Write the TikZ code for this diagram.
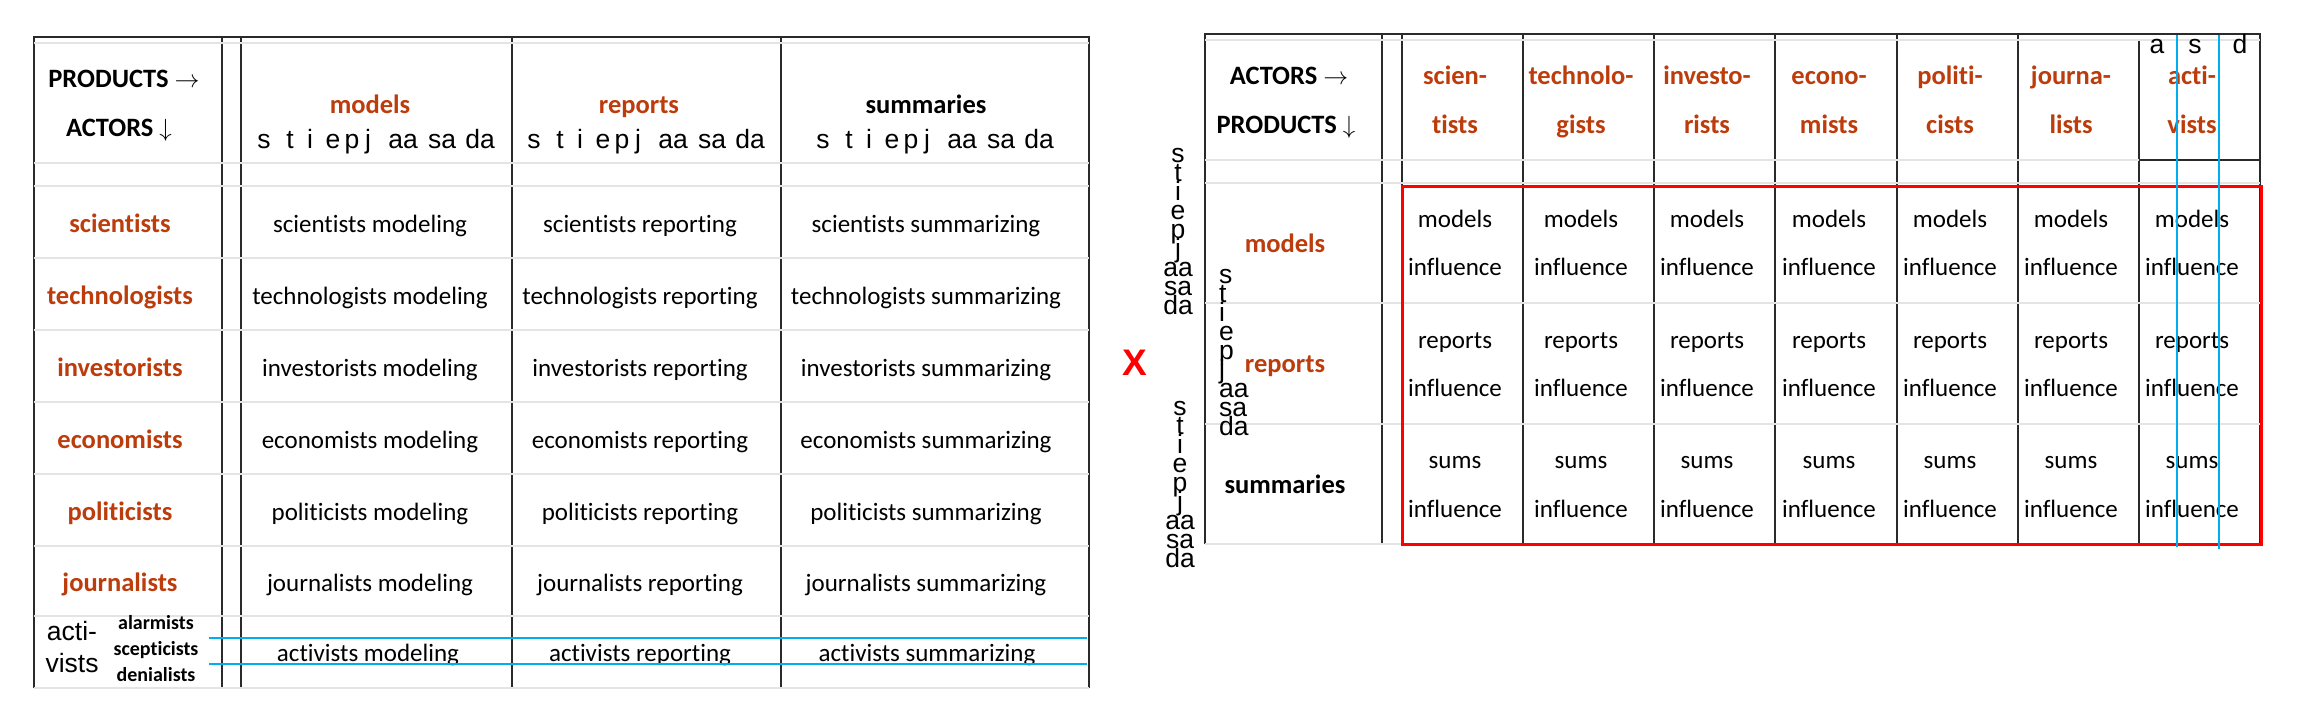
\documentclass[tikz,border=0pt]{standalone}
\usepackage{fontspec}
\setmainfont{Carlito}[Ligatures={NoCommon}]
\newfontfamily\arialf{Liberation Sans}
\definecolor{lab}{HTML}{BC3C0C}
\definecolor{blu}{HTML}{00AEEF}
\definecolor{grl}{HTML}{E4E4E4}
\definecolor{dk}{HTML}{2A2A2A}
\begin{document}
\begin{tikzpicture}[x=1pt,y=-1pt,
  every node/.style={inner sep=0pt, outer sep=0pt},
  cell/.style={anchor=base, font=\fontsize{25}{30}\selectfont},
  rlab/.style={anchor=base, text=lab, font=\fontsize{26.5}{30}\selectfont\bfseries},
  blab/.style={anchor=base, font=\fontsize{26.5}{30}\selectfont\bfseries},
  smallb/.style={anchor=base, font=\fontsize{20}{22}\selectfont\bfseries},
  ar/.style={anchor=base, font=\arialf\fontsize{26.5}{26}\selectfont},
  dline/.style={draw=dk, line width=2pt},
  gline/.style={draw=grl, line width=2pt},
  bline/.style={draw=blu, line width=2.5pt},
]
\fill[white] (0,0) rectangle (2298,720);
\useasboundingbox (0,0) rectangle (2298,720);

% ---------------- left table ----------------
\foreach \x in {34,222,241,512,781,1089} \draw[dline] (\x,37) -- (\x,688);
\foreach \y in {43,163,186,258,330,402,474,546,616,688} \draw[gline] (34,\y) -- (1089,\y);
\draw[dline] (33,37) -- (1090,37);

\node[blab] (lhp) at (124,87) {PRODUCTS $\rightarrow$};
\node[blab] (lha) at (119,136) {ACTORS $\downarrow$};
\node[rlab] (lmod) at (370,113) {models};
\node[rlab] (lrep) at (639,113) {reports};
\node[blab] (lsum) at (926,113) {summaries};

\foreach \c/\k in {377/a,647/b,936/c}{
  \foreach \l/\o [count=\i] in {s/-113,t/-87,i/-67,e/-44,p/-25,j/-9,aa/26,sa/65,da/103}
    \node[ar] (let\k\i) at (\c+\o,148) {\l};
}

\foreach \n/\y [count=\i] in {scientists/232,technologists/304,investorists/376,economists/448,politicists/520,journalists/591}{
  \node[rlab] (act\i) at (120,\y) {\n};
  \node[cell] (m\i) at (370,\y) {\n\ modeling};
  \node[cell] (r\i) at (640,\y) {\n\ reporting};
  \node[cell] (s\i) at (926,\y) {\n\ summarizing};
}
\node[ar] (acti1) at (72,640) {acti-};
\node[ar] (acti2) at (72,672) {vists};
\node[smallb] (alarm) at (156,629) {alarmists};
\node[smallb] (scept) at (156,655) {scepticists};
\node[smallb] (denial) at (156,681) {denialists};
\node[cell] (m7) at (368,661) {activists modeling};
\node[cell] (r7) at (640,661) {activists reporting};
\node[cell] (s7) at (927,661) {activists summarizing};

\coordinate (bl1a) at (209,638); \coordinate (bl1b) at (1087,638);
\coordinate (bl2a) at (209,664); \coordinate (bl2b) at (1087,664);
\draw[bline] (bl1a) -- (bl1b);
\draw[bline] (bl2a) -- (bl2b);

% ---------------- X ----------------
\node[anchor=base, text=red, font=\arialf\fontsize{37}{37}\selectfont\bfseries] (times) at (1135,375) {X};

% ---------------- right table ----------------
\foreach \x in {1205,1382,1402,1523,1654,1775,1897,2018,2260} \draw[dline] (\x,34) -- (\x,544);
\draw[dline] (2139,41) -- (2139,544);
\foreach \y in {40,160,183,303,424,544} \draw[gline] (1205,\y) -- (2260,\y);
\draw[dline] (1204,34) -- (2261,34);
\draw[dline] (2139,160) -- (2260,160);
\draw[red, line width=3pt] (1402,186) rectangle (2261,544);

\node[blab] (rha) at (1289,84) {ACTORS $\rightarrow$};
\node[blab] (rhp) at (1286,133) {PRODUCTS $\downarrow$};

\foreach \x/\a/\b [count=\i] in {1455/scien-/tists,1581/technolo-/gists,1707/investo-/rists,1829/econo-/mists,1950/politi-/cists,2071/journa-/lists,2192/acti-/vists}{
  \node[rlab] (ha\i) at (\x,84) {\a};
  \node[rlab] (hb\i) at (\x,133) {\b};
  \node[cell] (c1a\i) at (\x,227) {models};
  \node[cell] (c1b\i) at (\x,275) {influence};
  \node[cell] (c2a\i) at (\x,348) {reports};
  \node[cell] (c2b\i) at (\x,396) {influence};
  \node[cell] (c3a\i) at (\x,468) {sums};
  \node[cell] (c3b\i) at (\x,517) {influence};
}

\node[rlab] (pmod) at (1285,252) {models};
\node[rlab] (prep) at (1285,372) {reports};
\node[blab] (psum) at (1285,493) {summaries};

\node[ar] (ta) at (2157,53) {a};
\node[ar] (ts) at (2195,53) {s};
\node[ar] (td) at (2240,53) {d};

\coordinate (bv1a) at (2177,35); \coordinate (bv1b) at (2177,547);
\coordinate (bv2a) at (2219,35); \coordinate (bv2b) at (2219,549);
\draw[bline] (bv1a) -- (bv1b);
\draw[bline] (bv2a) -- (bv2b);

% vertical letter stacks
\foreach \l [count=\i] in {s,t,i,e,p,j,aa,sa,da}{
  \node[ar] (va\i) at (1178,162+19*\i-19) {\l};
  \node[ar, anchor=base west] (vb\i) at (1219,283+19*\i-19) {\l};
  \node[ar] (vc\i) at (1180,415+19*\i-19) {\l};
}
\end{tikzpicture}
\end{document}
